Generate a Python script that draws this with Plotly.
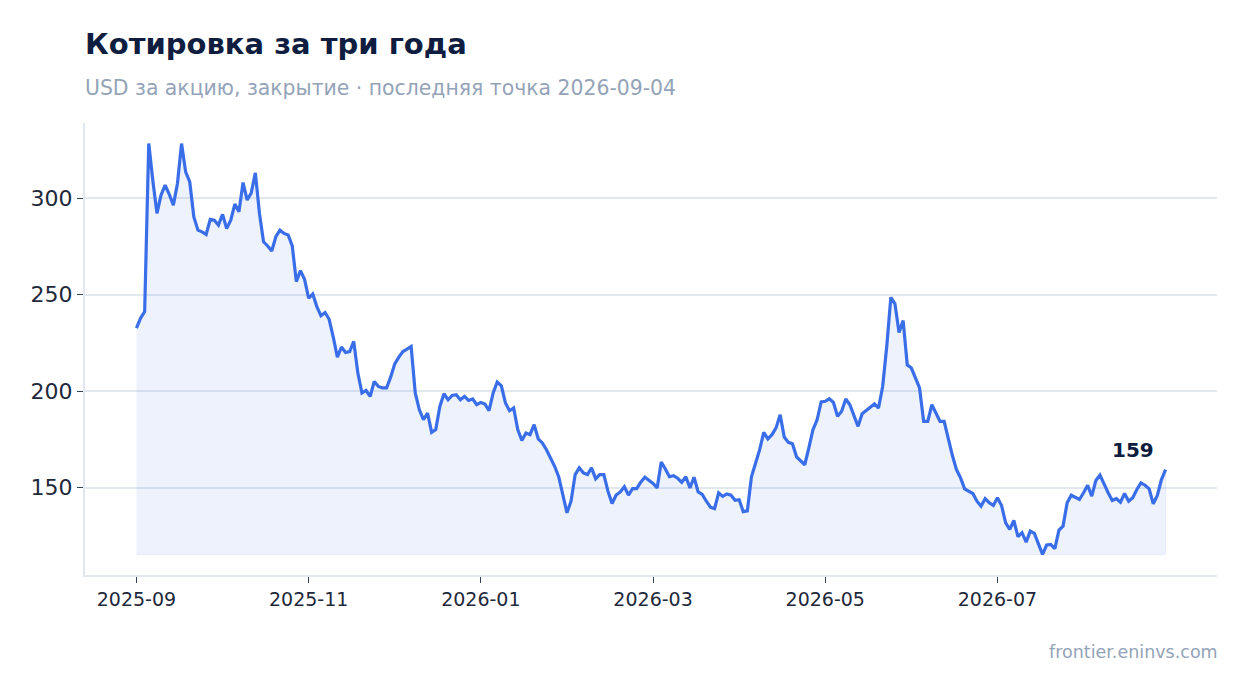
import plotly.graph_objects as go

# Daily close, USD per share (one point per trading day)
close = [
    232.6, 237.8, 241.2, 328.3, 309.0, 292.1, 301.6, 306.7, 302.0, 296.4,
    307.6, 328.3, 313.6, 308.4, 290.3, 283.4, 282.5, 281.2, 289.0, 288.6,
    286.0, 291.6, 284.3, 288.6, 296.9, 292.9, 308.1, 299.0, 302.7, 313.1,
    292.1, 277.4, 275.2, 272.6, 280.0, 283.4, 281.7, 280.9, 275.2, 256.7,
    262.4, 257.9, 248.1, 250.3, 243.8, 239.0, 240.7, 237.2, 228.0, 217.6,
    222.8, 220.0, 220.5, 225.7, 209.3, 199.0, 200.3, 197.2, 205.0, 202.4,
    201.6, 201.6, 207.2, 214.1, 217.6, 220.5, 221.7, 223.1, 199.0, 190.3,
    185.2, 188.6, 178.6, 180.0, 192.0, 198.6, 195.5, 197.7, 198.1, 195.5,
    197.2, 195.1, 195.9, 192.9, 194.1, 193.3, 189.8, 199.0, 204.7, 202.7,
    193.8, 189.8, 191.2, 180.0, 174.4, 178.3, 177.4, 182.6, 175.2, 173.1,
    169.6, 165.3, 161.0, 155.5, 146.4, 136.9, 142.9, 156.7, 160.2, 157.6,
    156.7, 160.2, 154.5, 156.7, 156.7, 148.1, 141.7, 146.1, 147.7, 150.4,
    146.1, 149.4, 149.4, 152.8, 155.3, 153.8, 152.1, 149.8, 163.2, 159.6,
    155.6, 156.1, 154.8, 152.7, 155.6, 149.8, 155.3, 147.7, 146.4, 142.9,
    139.8, 139.0, 147.2, 145.4, 146.7, 146.0, 143.4, 143.7, 137.5, 137.9,
    155.6, 162.6, 169.6, 178.6, 175.2, 177.4, 180.9, 187.7, 176.2, 173.4,
    172.7, 165.9, 163.6, 161.8, 170.5, 180.0, 185.0, 194.4, 194.7, 196.0,
    194.1, 186.9, 189.5, 195.9, 192.9, 187.2, 181.7, 188.2, 190.0, 191.7,
    193.3, 191.2, 202.4, 223.1, 248.6, 245.2, 230.3, 236.5, 213.6, 211.9,
    206.7, 201.6, 184.3, 184.3, 192.9, 188.9, 184.3, 184.3, 175.2, 166.7,
    159.3, 155.0, 149.3, 148.1, 146.9, 142.9, 140.3, 144.2, 142.1, 140.7,
    144.7, 140.7, 131.7, 128.3, 132.9, 124.5, 126.6, 121.7, 127.4, 126.2,
    120.5, 115.3, 120.2, 120.5, 118.3, 127.9, 130.0, 142.1, 146.0, 144.7,
    143.8, 147.3, 151.2, 145.5, 153.6, 156.4, 151.6, 147.3, 143.3, 144.2,
    142.4, 146.9, 142.9, 144.7, 149.0, 152.4, 151.2, 149.3, 141.6, 145.9,
    154.1, 159.3,
]
tick_labels = ['2025-09', '2025-11', '2026-01', '2026-03', '2026-05', '2026-07']
days_per_tick = 42  # ~21 trading days a month

days = list(range(len(close)))
lo, hi = min(close), max(close)
pad_y = (hi - lo) * 0.05
pad_x = (len(close) - 1) * 0.05

LINE = '#3a6ee8'
FILL = 'rgba(58,110,232,0.09)'
GRID = '#e2e8f0'
MUTED = '#94a3b8'
DARK = '#0f1d40'

fig = go.Figure()

# shaded area between the line and the lowest close
fig.add_trace(go.Scatter(
    x=days + days[::-1], y=close + [lo] * len(close),
    fill='toself', fillcolor=FILL, line=dict(color=FILL, width=1),
    mode='lines', hoverinfo='skip', showlegend=False
))

fig.add_trace(go.Scatter(
    x=days, y=close, mode='lines',
    line=dict(color=LINE, width=3.2), showlegend=False
))

# last value label
fig.add_annotation(
    x=days[-1], y=close[-1], text=f'<b>{close[-1]:.0f}</b>',
    showarrow=False, xanchor='right', yanchor='bottom', xshift=-10, yshift=6,
    font=dict(size=20, color=DARK, family='DejaVu Sans')
)

fig.add_annotation(
    x=0, y=1.175, xref='paper', yref='paper', xanchor='left', yanchor='middle',
    text='<b>Котировка за три года</b>', showarrow=False, xshift=-2,
    font=dict(size=29, color=DARK, family='DejaVu Sans')
)
fig.add_annotation(
    x=0, y=1.078, xref='paper', yref='paper', xanchor='left', yanchor='middle',
    text='USD за акцию, закрытие · последняя точка 2026-09-04', showarrow=False, xshift=-2,
    font=dict(size=20.4, color=MUTED, family='DejaVu Sans')
)
fig.add_annotation(
    x=1, y=-0.17, xref='paper', yref='paper', xanchor='right', yanchor='middle',
    text='frontier.eninvs.com', showarrow=False, xshift=3,
    font=dict(size=17.5, color=MUTED, family='DejaVu Sans')
)

fig.update_layout(
    width=1231, height=677,
    margin=dict(l=77, r=22, t=115, b=110),
    plot_bgcolor='white', paper_bgcolor='white',
    font=dict(family='DejaVu Sans', color='#1e293b'),
    xaxis=dict(
        range=[-pad_x, days[-1] + pad_x],
        tickvals=days[::days_per_tick][:len(tick_labels)], ticktext=tick_labels,
        showgrid=False, showline=True, linecolor=GRID, linewidth=2,
        ticks='outside', ticklen=6, tickcolor='#334155', tickfont=dict(size=19),
        zeroline=False
    ),
    yaxis=dict(
        range=[lo - pad_y, hi + pad_y],
        tickvals=[150, 200, 250, 300],
        showgrid=True, gridcolor=GRID, gridwidth=2,
        showline=True, linecolor=GRID, linewidth=2,
        ticks='outside', ticklen=6, tickcolor='#334155', tickfont=dict(size=22),
        zeroline=False
    ),
)

fig.write_html('out.html')
